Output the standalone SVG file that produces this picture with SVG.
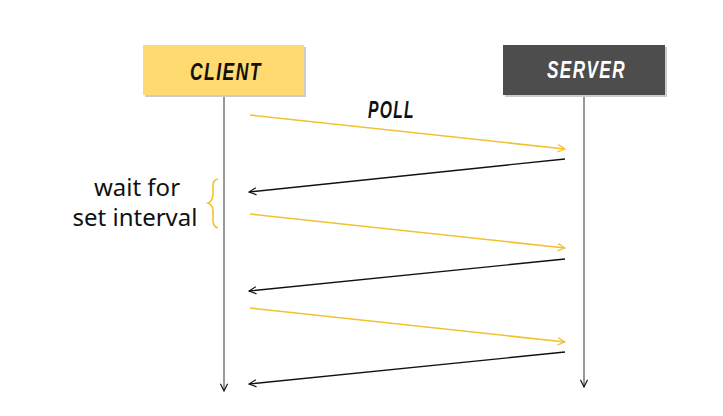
<svg xmlns="http://www.w3.org/2000/svg" width="723" height="416" viewBox="0 0 723 416">
<defs>
<style>
.lbl{font-family:"Liberation Sans",Arial,sans-serif;font-weight:bold;font-style:italic;font-size:24px;letter-spacing:2px}
.txt{font-family:"Noto Sans","Open Sans",sans-serif;font-size:24px;fill:#111;text-anchor:middle}
.y{stroke:#F2C12E;stroke-width:1.6;fill:none}
.k{stroke:#111;stroke-width:1.3;fill:none}
.life{stroke:#555;stroke-width:1.2;fill:none}
</style>
<marker id="ay" viewBox="0 0 10 10" refX="9" refY="5" markerWidth="9" markerHeight="9" markerUnits="userSpaceOnUse" orient="auto"><path d="M1,1 L9,5 L1,9" fill="none" stroke="#F2C12E" stroke-width="1.4"/></marker>
<marker id="ak" viewBox="0 0 10 10" refX="9" refY="5" markerWidth="9" markerHeight="9" markerUnits="userSpaceOnUse" orient="auto"><path d="M1,1 L9,5 L1,9" fill="none" stroke="#111" stroke-width="1.3"/></marker>
</defs>
<rect width="723" height="416" fill="#fff"/>
<g id="client">
<rect x="145" y="47" width="161" height="50" fill="#ccc"/>
<rect x="143" y="45" width="161" height="50" fill="#FFDA70"/>
<text class="lbl" x="190" y="80" fill="#111" textLength="72" lengthAdjust="spacingAndGlyphs">CLIENT</text>
</g>
<g id="server">
<rect x="505" y="47" width="162" height="50" fill="#ccc"/>
<rect x="503" y="45" width="162" height="50" fill="#4D4D4D"/>
<text class="lbl" x="547" y="78" fill="#fff" textLength="79" lengthAdjust="spacingAndGlyphs">SERVER</text>
</g>
<g id="poll-label"><text class="lbl" x="368" y="118" fill="#111" textLength="47" lengthAdjust="spacingAndGlyphs">POLL</text></g>
<g id="wait-label">
<text class="txt" x="137" y="196">wait for</text>
<text class="txt" x="135" y="226">set interval</text>
<path d="M218,179 Q212,180 213,188 Q214,201 208,203 Q214,205 213,216 Q212,227 218,228" stroke="#F2C12E" stroke-width="1.6" fill="none"/>
</g>
<g id="connectors">
<line class="life" x1="224" y1="97" x2="224" y2="391" marker-end="url(#ak)"/>
<line class="life" x1="584" y1="97" x2="584" y2="387" marker-end="url(#ak)"/>
<line class="y" x1="250" y1="115" x2="565" y2="149" marker-end="url(#ay)"/>
<line class="k" x1="565" y1="159" x2="249" y2="192" marker-end="url(#ak)"/>
<line class="y" x1="250" y1="214" x2="565" y2="248" marker-end="url(#ay)"/>
<line class="k" x1="565" y1="259" x2="249" y2="291" marker-end="url(#ak)"/>
<line class="y" x1="250" y1="308" x2="565" y2="342" marker-end="url(#ay)"/>
<line class="k" x1="565" y1="352" x2="249" y2="384" marker-end="url(#ak)"/>
</g>
</svg>
